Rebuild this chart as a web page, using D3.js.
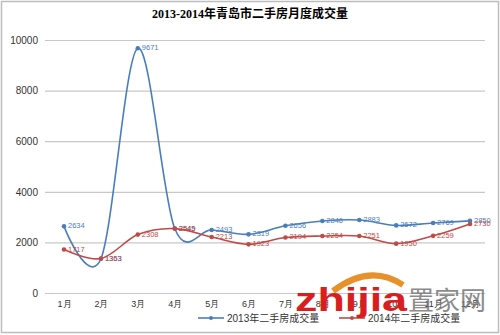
<!DOCTYPE html>
<html>
<head>
<meta charset="utf-8">
<script src="https://cdn.jsdelivr.net/npm/d3@7"></script>
<style>
  body { margin: 0; background: #fff; }
  svg { display: block; font-family: "Liberation Sans", "Noto Sans CJK SC", sans-serif; }
</style>
</head>
<body>
<svg width="500" height="335"></svg>
<script>
const months = ['1月', '2月', '3月', '4月', '5月', '6月', '7月', '8月', '9月', '10月', '11月', '12月'];
const sales2013 = [2634, 1353, 9671, 2549, 2493, 2319, 2656, 2846, 2883, 2672, 2769, 2850];
const sales2014 = [1717, 1363, 2308, 2545, 2213, 1923, 2194, 2254, 2251, 1950, 2259, 2730];
const yTicks = [0, 2000, 4000, 6000, 8000, 10000];
const seriesNames = ['2013年二手房成交量', '2014年二手房成交量'];

const margin = { top: 40, right: 10, bottom: 42, left: 45 };
const w = 500 - margin.left - margin.right;
const h = 335 - margin.top - margin.bottom;

let svg = d3.select('svg');

// outer frame
svg.append('rect')
    .attr('x', 1.5).attr('y', 1.5)
    .attr('width', 497).attr('height', 331)
    .attr('fill', 'none')
    .attr('stroke', '#bdbdbd')
    .attr('stroke-width', 1.5);

// title
svg.append('text')
    .attr('x', 250)
    .attr('y', 18)
    .attr('text-anchor', 'middle')
    .style('font-family', '"Liberation Serif", "Noto Sans CJK SC", serif')
    .style('font-weight', 'bold')
    .style('font-size', '12px')
    .text('2013-2014年青岛市二手房月度成交量');

let g = svg.append('g')
    .attr('transform', `translate(${margin.left}, ${margin.top})`);

let xScale = d3.scalePoint()
    .domain(months)
    .range([19, 425]);

let yScale = d3.scaleLinear()
    .domain([0, 10000])
    .range([h, 0]);

// gridlines
g.selectAll('.grid')
    .data(yTicks)
    .enter()
    .append('line')
    .attr('x1', 0)
    .attr('x2', w - 5)
    .attr('y1', d => yScale(d) + 0.5)
    .attr('y2', d => yScale(d) + 0.5)
    .attr('stroke', '#c8c8c8')
    .attr('stroke-width', 1.2);

// y axis labels
let yAxis = d3.axisLeft(yScale)
    .tickValues(yTicks)
    .tickFormat(d3.format('d'))
    .tickSize(0)
    .tickPadding(7);
g.append('g')
    .call(yAxis)
    .call(s => s.select('.domain').remove())
    .selectAll('text')
    .style('font-size', '10px')
    .attr('fill', '#333');

// x axis labels
let xAxis = d3.axisBottom(xScale).tickSize(0).tickPadding(8);
g.append('g')
    .attr('transform', `translate(0, ${h})`)
    .call(xAxis)
    .call(s => s.select('.domain').remove())
    .selectAll('text')
    .style('font-size', '9px')
    .attr('fill', '#333');

const colors = ['#4a7ebb', '#be4b48'];
const allSeries = [sales2013, sales2014];

let line = d3.line()
    .x((d, i) => xScale(months[i]))
    .y(d => yScale(d))
    .curve(d3.curveCardinal.tension(0));

allSeries.forEach((data, k) => {
    g.append('path')
        .datum(data)
        .attr('d', line)
        .attr('fill', 'none')
        .attr('stroke', colors[k])
        .attr('stroke-width', 1.6);

    g.selectAll('.pt' + k)
        .data(data)
        .enter()
        .append('circle')
        .attr('cx', (d, i) => xScale(months[i]))
        .attr('cy', d => yScale(d))
        .attr('r', 2.3)
        .attr('fill', colors[k]);

    g.selectAll('.lbl' + k)
        .data(data)
        .enter()
        .append('text')
        .attr('x', (d, i) => xScale(months[i]) + 4)
        .attr('y', d => yScale(d) + 2)
        .style('font-size', '7.5px')
        .attr('fill', colors[k])
        .text(d => d);
});

// legend
const legendX = [198, 339];
seriesNames.forEach((name, k) => {
    let lg = svg.append('g').attr('transform', `translate(${legendX[k]}, 318)`);
    lg.append('line')
        .attr('x1', 0).attr('x2', 26)
        .attr('y1', 0).attr('y2', 0)
        .attr('stroke', colors[k])
        .attr('stroke-width', 1.6);
    lg.append('circle')
        .attr('cx', 13).attr('cy', 0).attr('r', 2)
        .attr('fill', colors[k]);
    lg.append('text')
        .attr('x', 29)
        .attr('y', 4)
        .style('font-size', '10px')
        .attr('fill', '#333')
        .text(name);
});

// watermark
let wm = svg.append('g').attr('transform', 'translate(295, 311)');
wm.append('path')
    .attr('d', 'M 38 -20 Q 75 -48 108 -26')
    .attr('fill', 'none')
    .attr('stroke', '#e8912a')
    .attr('stroke-width', 6);
wm.append('text')
    .attr('x', 0).attr('y', 0)
    .attr('textLength', 112)
    .attr('lengthAdjust', 'spacingAndGlyphs')
    .style('font-family', '"Liberation Sans", sans-serif')
    .style('font-weight', 'bold')
    .style('font-size', '34px')
    .attr('fill', '#d81e1e')
    .text('zhijia');
wm.append('text')
    .attr('x', 113).attr('y', -1)
    .style('font-family', '"Noto Sans CJK SC", sans-serif')
    .style('font-size', '26px')
    .attr('fill', '#777')
    .attr('opacity', 0.85)
    .text('置家网');
wm.append('text')
    .attr('x', 85).attr('y', 10)
    .style('font-size', '8px')
    .attr('fill', '#999')
    .attr('letter-spacing', '2px')
    .text('com');
</script>
</body>
</html>
